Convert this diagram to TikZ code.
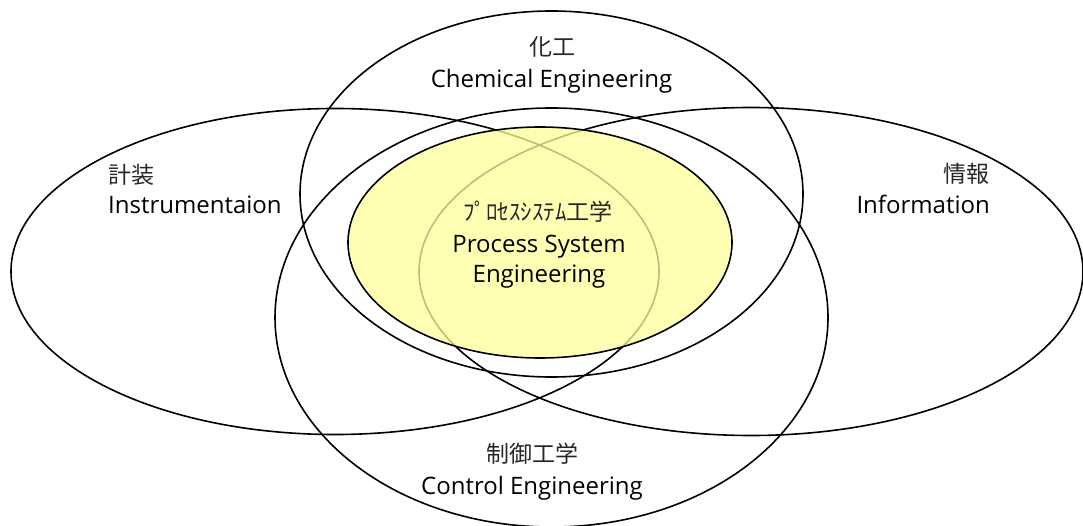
\documentclass[tikz,border=0pt]{standalone}
\usepackage{fontspec}
\setmainfont{Open Sans}
\newfontfamily\jpfont{Noto Sans CJK JP}
\usetikzlibrary{shapes.geometric}
\definecolor{psefill}{RGB}{255,255,155}
\tikzset{
  ring/.style={ellipse, draw=black, line width=1.6pt, inner sep=0pt, outer sep=0pt},
  coreRing/.style={ring, fill=psefill, fill opacity=0.75, draw opacity=1},
  lbl/.style={inner sep=0pt, font=\fontsize{24}{30}\selectfont, text=black},
  jp/.style={inner sep=0pt, font=\jpfont\fontsize{23}{30}\selectfont, text=black!85}
}
\begin{document}
\begin{tikzpicture}[x=1pt,y=-1pt]
\useasboundingbox (0,0) rectangle (1083,526);
% outer rings
\node[ring, minimum width=648pt, minimum height=326pt] (instr) at (335,271.5) {};
\node[ring, minimum width=664pt, minimum height=328pt] (info) at (751,271.5) {};
\node[ring, minimum width=503pt, minimum height=366pt] (chem) at (551.5,194) {};
\node[ring, minimum width=553pt, minimum height=419pt] (ctrl) at (551.5,317.5) {};
% core ring
\node[coreRing, minimum width=384pt, minimum height=231pt] (pse) at (540,242.5) {};
% labels
\node[jp] (chemJa) at (552,47) {化工};
\node[lbl, anchor=base] (chemEn) at (551.5,88) {Chemical Engineering};
\node[jp, anchor=west] (instJa) at (108,175) {計装};
\node[lbl, anchor=base west] (instEn) at (108,214) {Instrumentaion};
\node[jp, anchor=east] (infoJa) at (990,174) {情報};
\node[lbl, anchor=base east] (infoEn) at (990,214) {Information};
\node[jp] (pseJa) at (538,212) {ﾌﾟﾛｾｽｼｽﾃﾑ工学};
\node[lbl, anchor=base] (pseEn1) at (539,253) {Process System};
\node[lbl, anchor=base] (pseEn2) at (539,283) {Engineering};
\node[jp] (ctrlJa) at (532,454) {制御工学};
\node[lbl, anchor=base] (ctrlEn) at (532,494) {Control Engineering};
\end{tikzpicture}
\end{document}
